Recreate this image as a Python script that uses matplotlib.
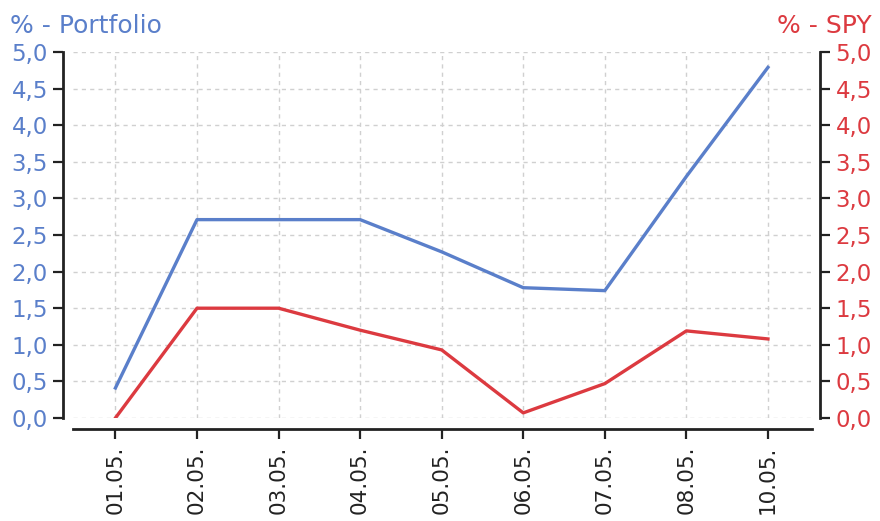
import matplotlib as mpl
import matplotlib.pyplot as plt
import numpy as np
from matplotlib.ticker import FuncFormatter, MultipleLocator

mpl.use('Agg')

dates = ['01.05.', '02.05.', '03.05.', '04.05.', '05.05.',
         '06.05.', '07.05.', '08.05.', '10.05.']
portfolio = [0.41, 2.71, 2.71, 2.71, 2.27, 1.78, 1.74, 3.3, 4.79]
spy = [0.0, 1.5, 1.5, 1.2, 0.93, 0.07, 0.47, 1.19, 1.08]

blue = '#5a7fca'
red = '#dc3a40'
fs = 16.5

fig = plt.figure(figsize=(8.8, 5.21), dpi=100)
ax = fig.add_axes([73 / 880, 103 / 521, 739 / 880, 366 / 521])
ax2 = ax.twinx()

x = np.arange(len(dates))
ax.plot(x, portfolio, color=blue, lw=2.4, zorder=3)
ax2.plot(x, spy, color=red, lw=2.4, zorder=3)

comma = FuncFormatter(lambda v, p: f'{v:.1f}'.replace('.', ','))
for a, c in ((ax, blue), (ax2, red)):
    a.set_ylim(0, 5)
    a.yaxis.set_major_locator(MultipleLocator(0.5))
    a.yaxis.set_major_formatter(comma)
    a.tick_params(axis='y', colors='#222222', labelcolor=c, labelsize=fs,
                  length=7, width=1.6, pad=4)
    for s in a.spines.values():
        s.set_linewidth(2)
        s.set_color('#222222')
    a.spines['top'].set_visible(False)

ax.spines['right'].set_visible(False)
ax.spines['left'].set_position(('outward', 7))
ax.spines['bottom'].set_position(('outward', 8))
ax2.spines['left'].set_visible(False)
ax2.spines['bottom'].set_visible(False)
ax2.spines['right'].set_position(('outward', 6))

ax.set_xlim(-0.52, 8.54)
ax.set_xticks(x, dates, rotation=90)
ax.tick_params(axis='x', colors='#222222', labelcolor='#222222',
               labelsize=15.5, length=7, width=1.6, pad=5)

ax.grid(True, color='#d0d0d0', linestyle=(0, (3, 3)), lw=1)
ax.set_axisbelow(True)

fig.text(10 / 880, 1 - 33 / 521, '% - Portfolio', color=blue, fontsize=18)
fig.text(872 / 880, 1 - 33 / 521, '% - SPY', color=red, fontsize=18, ha='right')

fig.savefig('out.png', dpi=100, facecolor='white')
